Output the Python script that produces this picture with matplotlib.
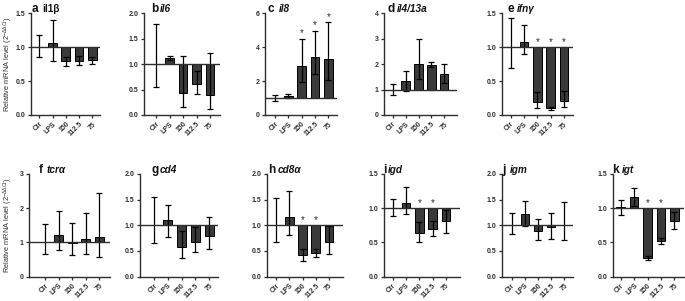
import matplotlib
matplotlib.use("Agg")
import matplotlib.pyplot as plt

plt.rcParams['font.family'] = ['Liberation Sans', 'DejaVu Sans']
plt.rcParams['mathtext.fontset'] = 'custom'
plt.rcParams['mathtext.rm'] = 'Liberation Sans'
plt.rcParams['mathtext.it'] = 'Liberation Sans:italic'

groups = ['Ctr', 'LPS', '150', '112.5', '75']

il1b_mean = [1.01, 1.06, 0.80, 0.80, 0.81]
il1b_lo = [0.85, 0.80, 0.73, 0.74, 0.75]
il1b_hi = [1.18, 1.40, 0.86, 0.87, 0.86]

il6_mean = [1.00, 1.13, 0.43, 0.60, 0.39]
il6_lo = [0.56, 1.08, 0.15, 0.42, 0.12]
il6_hi = [1.78, 1.17, 1.16, 0.86, 1.22]

il8_mean = [0.98, 1.10, 2.90, 3.43, 3.33]
il8_lo = [0.80, 1.00, 1.95, 2.44, 2.04]
il8_hi = [1.18, 1.22, 4.50, 4.97, 5.47]

il413a_mean = [1.00, 1.33, 2.02, 1.98, 1.60]
il413a_lo = [0.80, 0.96, 1.40, 1.89, 1.25]
il413a_hi = [1.23, 1.73, 2.97, 2.09, 2.02]

ifng_mean = [1.00, 1.08, 0.19, 0.11, 0.21]
ifng_lo = [0.70, 0.90, 0.10, 0.08, 0.12]
ifng_hi = [1.43, 1.33, 0.34, 0.12, 0.35]

tcra_mean = [1.02, 1.21, 0.99, 1.10, 1.17]
tcra_lo = [0.66, 0.77, 0.64, 0.67, 0.58]
tcra_hi = [1.54, 1.92, 1.56, 1.87, 2.44]

cd4_mean = [1.01, 1.10, 0.57, 0.68, 0.80]
cd4_lo = [0.66, 0.77, 0.37, 0.47, 0.54]
cd4_hi = [1.55, 1.40, 0.89, 0.96, 1.17]

cd8a_mean = [1.01, 1.16, 0.42, 0.46, 0.68]
cd8a_lo = [0.67, 0.81, 0.31, 0.38, 0.44]
cd8a_hi = [1.54, 1.67, 0.53, 0.53, 0.98]

igd_mean = [1.00, 1.08, 0.63, 0.70, 0.81]
igd_lo = [0.89, 0.91, 0.50, 0.59, 0.64]
igd_hi = [1.13, 1.31, 0.80, 0.81, 0.98]

igm_mean = [1.00, 1.21, 0.89, 0.97, 1.01]
igm_lo = [0.83, 0.98, 0.71, 0.74, 0.71]
igm_hi = [1.24, 1.48, 1.12, 1.24, 1.45]

igt_mean = [1.01, 1.16, 0.27, 0.52, 0.81]
igt_lo = [0.90, 1.03, 0.24, 0.47, 0.69]
igt_hi = [1.12, 1.29, 0.30, 0.57, 0.95]

# significance markers (indices of groups)
il8_sig = [2, 3, 4]
ifng_sig = [2, 3, 4]
cd8a_sig = [2, 3]
igd_sig = [2, 3]
igt_sig = [2, 3]

ticks_15 = [0.0, 0.5, 1.0, 1.5]
ticks_20 = [0.0, 0.5, 1.0, 1.5, 2.0]
ticks_6 = [0, 2, 4, 6]
ticks_4 = [0, 1, 2, 3, 4]
ticks_3 = [0, 1, 2, 3]

W, H = 685, 301
fig = plt.figure(figsize=(W / 100, H / 100), dpi=100)

DARK = '#2e2e2e'
BAR = '#3a3a3a'

# (letter, gene, italic, mean, lo, hi, sig, yticks, decimals, row, L, R, t0, t4, letter_dx, gene_dx)
panels = [
    ('a', 'il1β', False, il1b_mean, il1b_lo, il1b_hi, [], ticks_15, 1, 0, 31, 100, 39.3, 92.3, 1, 11),
    ('b', 'il6', True, il6_mean, il6_lo, il6_hi, [], ticks_20, 1, 0, 144, 220, 156, 210, 7, 16),
    ('c', 'il8', True, il8_mean, il8_lo, il8_hi, il8_sig, ticks_6, 0, 0, 265, 337, 275, 328.3, 3, 14),
    ('d', 'il4/13a', True, il413a_mean, il413a_lo, il413a_hi, [], ticks_4, 0, 0, 384, 457, 392.7, 444.3, 3, 13),
    ('e', 'ifnγ', True, ifng_mean, ifng_lo, ifng_hi, ifng_sig, ticks_15, 1, 0, 502, 573, 510.7, 564, 5, 15),
    ('f', 'tcrα', True, tcra_mean, tcra_lo, tcra_hi, [], ticks_3, 0, 1, 29.3, 110, 45, 99.3, 9, 17),
    ('g', 'cd4', True, cd4_mean, cd4_lo, cd4_hi, [], ticks_20, 1, 1, 140, 218.3, 154, 209.3, 11, 20),
    ('h', 'cd8α', True, cd8a_mean, cd8a_lo, cd8a_hi, cd8a_sig, ticks_20, 1, 1, 267, 343, 276, 329, 1, 11),
    ('i', 'igd', True, igd_mean, igd_lo, igd_hi, igd_sig, ticks_15, 1, 1, 384, 460, 392.7, 446, -1, 4),
    ('j', 'igm', True, igm_mean, igm_lo, igm_hi, [], ticks_20, 1, 1, 502, 573, 511.7, 564.3, 0, 8),
    ('k', 'igt', True, igt_mean, igt_lo, igt_hi, igt_sig, ticks_15, 1, 1, 612.7, 684, 620.7, 674.3, -1, 9),
]

rows = [(13.3, 115.0), (174.0, 276.5)]

for (letter, gene, ital, mean, lo, hi, sig, yt, dec, row, L, R, t0, t4, ldx, gdx) in panels:
    ytop, ybot = rows[row]
    ax = fig.add_axes([L / W, 1 - ybot / H, (R - L) / W, (ybot - ytop) / H])
    unit = (t4 - t0) / 4.0
    ax.set_xlim((L - t0) / unit, 4 + (R - t4) / unit)
    ax.set_ylim(yt[0], yt[-1])
    x = list(range(len(groups)))
    heights = [m - 1 for m in mean]
    ax.bar(x, heights, bottom=1, width=0.65, color=BAR, edgecolor='black', linewidth=0.7, zorder=2)
    yerr = [[m - l for m, l in zip(mean, lo)], [h - m for m, h in zip(mean, hi)]]
    ax.errorbar(x, mean, yerr=yerr, fmt='none', ecolor='black', elinewidth=0.9,
                capsize=2.0, capthick=0.9, zorder=3)
    ax.axhline(1, color=DARK, linewidth=1.0, zorder=4)
    span = yt[-1] - yt[0]
    for i in sig:
        if mean[i] >= 1:
            ys = hi[i] + 0.005 * span
        else:
            ys = 1 + 0.005 * span
        ax.text(i, ys, '*', ha='center', va='bottom', fontsize=7, color=DARK, zorder=5)
    for s in ['top', 'right']:
        ax.spines[s].set_visible(False)
    for s in ['left', 'bottom']:
        ax.spines[s].set_color(DARK)
        ax.spines[s].set_linewidth(1.0)
    ax.set_yticks(yt)
    ax.set_yticklabels([f'{v:.{dec}f}' for v in yt], fontsize=5, color=DARK, fontweight='bold')
    ax.set_xticks(x)
    ax.set_xticklabels(groups, rotation=45, ha='right', rotation_mode='anchor',
                       fontsize=5, color=DARK, fontweight='bold')
    ax.tick_params(axis='both', length=2.5, width=0.9, color=DARK, pad=1.5)
    ax.annotate(letter, xy=(0, 1), xycoords='axes fraction', xytext=(ldx, 1),
                textcoords='offset pixels', fontsize=8.5, fontweight='bold', color='#111111',
                ha='left', va='baseline')
    ax.annotate(gene, xy=(0, 1), xycoords='axes fraction', xytext=(gdx, 1),
                textcoords='offset pixels', fontsize=7.2, fontweight='bold',
                fontstyle='italic' if ital else 'normal', color='#111111',
                ha='left', va='baseline')
    if letter in ('a', 'f'):
        fig.text(8 / W, 1 - (ytop + ybot) / 2 / H, r'Relative mRNA level (2$^{-\Delta\Delta Ct}$)',
                 rotation=90, ha='center', va='center', fontsize=5.3, color=DARK)

fig.savefig('out.png', dpi=100)
